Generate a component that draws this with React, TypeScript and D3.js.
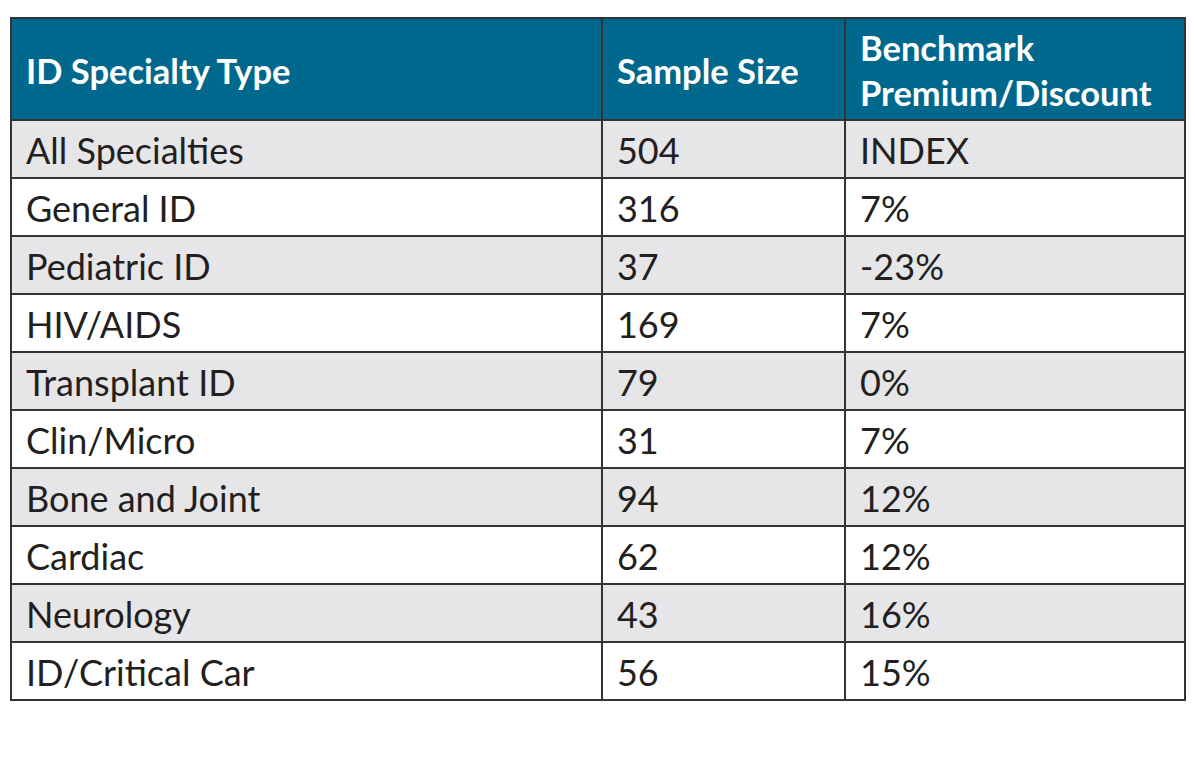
import { useMemo } from "react";
import * as d3 from "d3";

const headers = ["ID Specialty Type", "Sample Size", "Benchmark\nPremium/Discount"];
const specialties = [
  "All Specialties",
  "General ID",
  "Pediatric ID",
  "HIV/AIDS",
  "Transplant ID",
  "Clin/Micro",
  "Bone and Joint",
  "Cardiac",
  "Neurology",
  "ID/Critical Car",
];
const sampleSizes = [504, 316, 37, 169, 79, 31, 94, 62, 43, 56];
const premiums = ["INDEX", "7%", "-23%", "7%", "0%", "7%", "12%", "12%", "16%", "15%"];

const WIDTH = 1195;
const HEIGHT = 766;
const TABLE = { left: 11, right: 1185, top: 18, headerBottom: 120, bottom: 700 };
// column edge fractions of the table width
const COL_EDGES = [0, 0.5034, 0.7104, 1];
const HEADER_BG = "#00688c";
const STRIPE = "#e6e6e8";
const BORDER = "#333333";
const FONT = "Lato, 'Open Sans', sans-serif";

const App = () => {
  const x = useMemo(
    () => d3.scaleLinear().domain([0, 1]).range([TABLE.left, TABLE.right]),
    []
  );
  const y = useMemo(
    () =>
      d3
        .scaleBand<string>()
        .domain(specialties)
        .range([TABLE.headerBottom, TABLE.bottom]),
    []
  );

  const rows = specialties.map((s, i) => [s, String(sampleSizes[i]), premiums[i]]);
  const pad = 15;

  return (
    <svg
      width={WIDTH}
      height={HEIGHT}
      style={{ position: "absolute", left: 0, top: 0, background: "#fff" }}
      fontFamily={FONT}
    >
      {/* header */}
      <rect
        x={x(0)}
        y={TABLE.top}
        width={x(1) - x(0)}
        height={TABLE.headerBottom - TABLE.top}
        fill={HEADER_BG}
      />
      {headers.map((h, c) => {
        const lines = h.split("\n");
        const cy = (TABLE.top + TABLE.headerBottom) / 2 + 1;
        const lh = 45;
        return (
          <text
            key={h}
            x={x(COL_EDGES[c]) + pad}
            fill="#fff"
            fontWeight={700}
            fontSize={34.5}
          >
            {lines.map((l, k) => (
              <tspan
                key={l}
                x={x(COL_EDGES[c]) + pad}
                y={cy + (k - (lines.length - 1) / 2) * lh}
                dominantBaseline="central"
              >
                {l}
              </tspan>
            ))}
          </text>
        );
      })}

      {/* body */}
      {rows.map((r, i) => (
        <g key={r[0]}>
          <rect
            x={x(0)}
            y={y(specialties[i])!}
            width={x(1) - x(0)}
            height={y.bandwidth()}
            fill={i % 2 === 0 ? STRIPE : "#fff"}
          />
          {r.map((cell, c) => (
            <text
              key={c}
              x={x(COL_EDGES[c]) + pad}
              y={y(specialties[i])! + y.bandwidth() / 2 + 1}
              dominantBaseline="central"
              fontSize={36}
              fill="#231f20"
            >
              {cell}
            </text>
          ))}
        </g>
      ))}

      {/* grid lines */}
      {specialties.map((s) => (
        <line
          key={s}
          x1={x(0)}
          x2={x(1)}
          y1={y(s)!}
          y2={y(s)!}
          stroke={BORDER}
          strokeWidth={2}
        />
      ))}
      {COL_EDGES.map((e, i) => (
        <line
          key={i}
          x1={x(e)}
          x2={x(e)}
          y1={TABLE.top}
          y2={TABLE.bottom}
          stroke={BORDER}
          strokeWidth={2}
        />
      ))}
      <rect
        x={x(0)}
        y={TABLE.top}
        width={x(1) - x(0)}
        height={TABLE.bottom - TABLE.top}
        fill="none"
        stroke={BORDER}
        strokeWidth={2}
      />
    </svg>
  );
};

export default App;
